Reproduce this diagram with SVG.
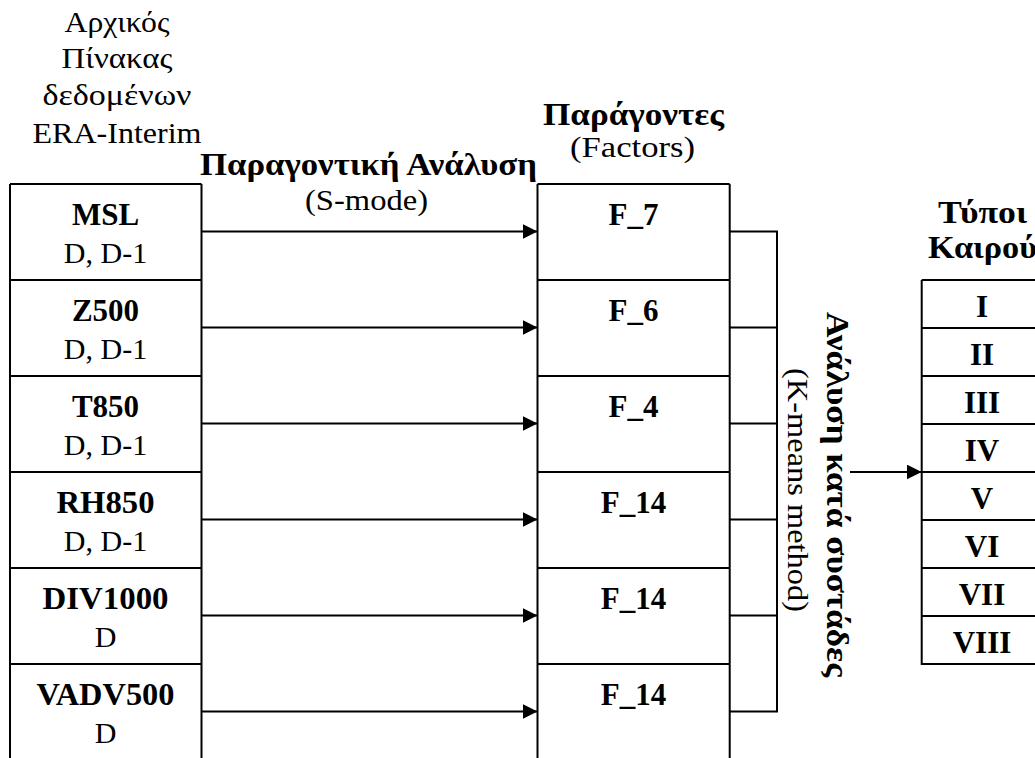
<svg xmlns="http://www.w3.org/2000/svg" width="1035" height="758" viewBox="0 0 1035 758">
  <defs>
    <style>
      text { font-family: "Liberation Serif", "Times New Roman", serif; fill: #000; }
      .reg { font-size: 30px; }
      .bold { font-size: 31px; font-weight: bold; }
      .c { text-anchor: middle; }
      .box { fill: none; stroke: #000; stroke-width: 2; }
      .wire { fill: none; stroke: #000; stroke-width: 2; }
    </style>
    <marker id="arrow" viewBox="0 0 15 15" refX="15" refY="7.5" markerWidth="15" markerHeight="15" markerUnits="userSpaceOnUse" orient="auto">
      <path d="M0,0 L15,7.5 L0,15 Z" fill="#000"/>
    </marker>
  </defs>
  <rect width="1035" height="758" fill="#fff"/>

  <!-- Column headers -->
  <g id="header-data">
    <text class="reg c" x="117" y="32" textLength="105" lengthAdjust="spacingAndGlyphs">Αρχικός</text>
    <text class="reg c" x="117" y="68" textLength="111" lengthAdjust="spacingAndGlyphs">Πίνακας</text>
    <text class="reg c" x="117" y="105" textLength="149" lengthAdjust="spacingAndGlyphs">δεδομένων</text>
    <text class="reg c" x="117" y="143" textLength="169" lengthAdjust="spacingAndGlyphs">ERA-Interim</text>
  </g>
  <g id="header-fa">
    <text class="bold c" x="368.5" y="175" textLength="337" lengthAdjust="spacingAndGlyphs">Παραγοντική Ανάλυση</text>
    <text class="reg c" x="366.5" y="210" textLength="123" lengthAdjust="spacingAndGlyphs">(S-mode)</text>
  </g>
  <g id="header-factors">
    <text class="bold c" x="633.5" y="125" textLength="181" lengthAdjust="spacingAndGlyphs">Παράγοντες</text>
    <text class="reg c" x="632.5" y="157" textLength="125" lengthAdjust="spacingAndGlyphs">(Factors)</text>
  </g>
  <g id="header-types">
    <text class="bold c" x="982.5" y="223" textLength="89" lengthAdjust="spacingAndGlyphs">Τύποι</text>
    <text class="bold c" x="982.5" y="258" textLength="109" lengthAdjust="spacingAndGlyphs">Καιρού</text>
  </g>

  <!-- Input variables table -->
  <g id="variables">
    <path class="box" d="M10,184 V760 M201.5,184 V760 M10,184 H201.5 M10,280 H201.5 M10,376 H201.5 M10,472 H201.5 M10,568 H201.5 M10,664 H201.5"/>
    <g id="var-msl">
      <text class="bold c" x="105.5" y="225">MSL</text>
      <text class="reg c" x="105.5" y="263">D, D-1</text>
    </g>
    <g id="var-z500">
      <text class="bold c" x="105.5" y="321">Z500</text>
      <text class="reg c" x="105.5" y="359">D, D-1</text>
    </g>
    <g id="var-t850">
      <text class="bold c" x="105.5" y="417">T850</text>
      <text class="reg c" x="105.5" y="455">D, D-1</text>
    </g>
    <g id="var-rh850">
      <text class="bold c" x="105.5" y="513" textLength="98" lengthAdjust="spacingAndGlyphs">RH850</text>
      <text class="reg c" x="105.5" y="551">D, D-1</text>
    </g>
    <g id="var-div1000">
      <text class="bold c" x="105.5" y="609" textLength="126" lengthAdjust="spacingAndGlyphs">DIV1000</text>
      <text class="reg c" x="105.5" y="647">D</text>
    </g>
    <g id="var-vadv500">
      <text class="bold c" x="105.5" y="705" textLength="138" lengthAdjust="spacingAndGlyphs">VADV500</text>
      <text class="reg c" x="105.5" y="743">D</text>
    </g>
  </g>

  <!-- Factors table -->
  <g id="factors">
    <path class="box" d="M537.5,184 V760 M729.7,184 V760 M537.5,184 H729.7 M537.5,280 H729.7 M537.5,376 H729.7 M537.5,472 H729.7 M537.5,568 H729.7 M537.5,664 H729.7"/>
    <text class="bold c" x="633.5" y="225">F_7</text>
    <text class="bold c" x="633.5" y="321">F_6</text>
    <text class="bold c" x="633.5" y="417">F_4</text>
    <text class="bold c" x="633.5" y="513">F_14</text>
    <text class="bold c" x="633.5" y="609">F_14</text>
    <text class="bold c" x="633.5" y="705">F_14</text>
  </g>

  <!-- Weather types table -->
  <g id="weather-types">
    <path class="box" d="M921.7,280 V664 H1040 M921.7,280 H1040 M921.7,328 H1040 M921.7,376 H1040 M921.7,424 H1040 M921.7,472 H1040 M921.7,520 H1040 M921.7,568 H1040 M921.7,616 H1040"/>
    <text class="bold c" x="982" y="317">I</text>
    <text class="bold c" x="982" y="365">II</text>
    <text class="bold c" x="982" y="413">III</text>
    <text class="bold c" x="982" y="461">IV</text>
    <text class="bold c" x="982" y="509">V</text>
    <text class="bold c" x="982" y="557">VI</text>
    <text class="bold c" x="982" y="605">VII</text>
    <text class="bold c" x="982" y="653">VIII</text>
  </g>

  <!-- Clustering label, rotated -->
  <g id="clustering">
    <text class="bold c" transform="translate(827,494.5) rotate(90)" x="0" y="0" textLength="365" lengthAdjust="spacingAndGlyphs">Ανάλυση κατά συστάδες</text>
    <text class="reg c" transform="translate(788,490) rotate(90)" x="0" y="0" textLength="244" lengthAdjust="spacingAndGlyphs">(K-means method)</text>
  </g>

  <!-- Connectors -->
  <g id="connectors">
    <path class="wire" marker-end="url(#arrow)" d="M201.5,231.5 H537.5"/>
    <path class="wire" marker-end="url(#arrow)" d="M201.5,327.5 H537.5"/>
    <path class="wire" marker-end="url(#arrow)" d="M201.5,423.5 H537.5"/>
    <path class="wire" marker-end="url(#arrow)" d="M201.5,519.5 H537.5"/>
    <path class="wire" marker-end="url(#arrow)" d="M201.5,615.5 H537.5"/>
    <path class="wire" marker-end="url(#arrow)" d="M201.5,711.5 H537.5"/>
    <path class="wire" d="M729.7,231.5 H777 M729.7,327.5 H777 M729.7,423.5 H777 M729.7,519.5 H777 M729.7,615.5 H777 M729.7,711.5 H777 M777,230.5 V712.5"/>
    <path class="wire" marker-end="url(#arrow)" d="M850,472 H921.7"/>
  </g>
</svg>
